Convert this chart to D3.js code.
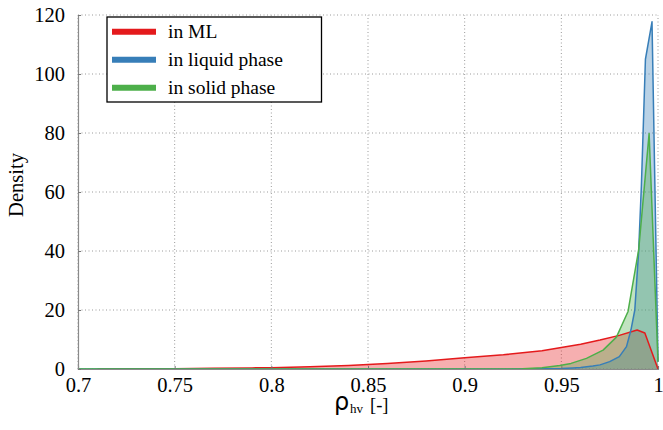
<!DOCTYPE html>
<html><head><meta charset="utf-8">
<script src="https://cdn.jsdelivr.net/npm/d3@7"></script>
<style>body{margin:0;background:#fff}svg{display:block}</style>
</head><body>
<svg id="c" width="663" height="430"></svg>
<script>
const seriesNames = ["in ML", "in liquid phase", "in solid phase"];
const seriesColors = ["#e41a1c", "#377eb8", "#4daf4a"];

const mlX = [0.71, 0.73, 0.75, 0.77, 0.79, 0.80, 0.82, 0.84, 0.85, 0.86, 0.88, 0.90, 0.92, 0.94, 0.95, 0.96, 0.97, 0.98, 0.9892, 0.9932, 1.0];
const mlY = [0, 0.05, 0.12, 0.25, 0.38, 0.45, 0.75, 1.2, 1.5, 1.85, 2.7, 3.8, 4.8, 6.2, 7.3, 8.4, 9.8, 11.4, 13.2, 12.2, 0];

const liqX = [0.70, 0.92, 0.94, 0.95, 0.956, 0.96, 0.9663, 0.97, 0.975, 0.98, 0.9837, 0.986, 0.988, 0.990, 0.9914, 0.9935, 0.9969, 1.0];
const liqY = [0, 0, 0.1, 0.2, 0.35, 0.5, 1.0, 1.4, 2.5, 4.2, 7.6, 13.2, 20, 40, 62, 105, 117.7, 2.5];

const solX = [0.70, 0.92, 0.93, 0.94, 0.9492, 0.955, 0.963, 0.9716, 0.9785, 0.9845, 0.990, 0.9954, 1.0];
const solY = [0, 0, 0.1, 0.4, 1.2, 1.9, 3.6, 6.4, 10.8, 19.5, 40.4, 79.8, 2.5];

const xTicks = [0.7, 0.75, 0.8, 0.85, 0.9, 0.95, 1];
const xTickLabels = ["0.7", "0.75", "0.8", "0.85", "0.9", "0.95", "1"];
const yTicks = [0, 20, 40, 60, 80, 100, 120];

const W = 663, H = 430;
const m = {l: 78, r: 5, t: 15, b: 61};
const svg = d3.select("#c");
const x = d3.scaleLinear().domain([0.7, 1]).range([m.l, W - m.r]);
const y = d3.scaleLinear().domain([0, 120]).range([H - m.b, m.t]);
const serif = "'Liberation Serif', 'DejaVu Serif', serif";

// grid
const g = svg.append("g");
g.selectAll(".gx").data(xTicks).join("line")
  .attr("x1", d => x(d)).attr("x2", d => x(d)).attr("y1", y(0)).attr("y2", y(120))
  .attr("stroke", "#9a9a9a").attr("stroke-width", 1).attr("stroke-dasharray", "1,2.5");
g.selectAll(".gy").data(yTicks).join("line")
  .attr("x1", x(0.7)).attr("x2", x(1)).attr("y1", d => y(d)).attr("y2", d => y(d))
  .attr("stroke", "#9a9a9a").attr("stroke-width", 1).attr("stroke-dasharray", "1,2.5");

// series: fills first, then lines
const series = [
  {xs: mlX, ys: mlY},
  {xs: liqX, ys: liqY},
  {xs: solX, ys: solY}
];
const area = d3.area().x(d => x(d[0])).y0(y(0)).y1(d => y(d[1]));
const line = d3.line().x(d => x(d[0])).y(d => y(d[1]));
const ptsAll = series.map(s => s.xs.map((v, k) => [v, s.ys[k]]));
ptsAll.forEach((pts, i) => {
  svg.append("path").attr("d", area(pts)).attr("fill", seriesColors[i]).attr("fill-opacity", 0.35);
});
ptsAll.forEach((pts, i) => {
  svg.append("path").attr("d", line(pts)).attr("fill", "none").attr("stroke", seriesColors[i])
    .attr("stroke-width", 1.5).attr("stroke-linejoin", "round");
});

// axes
const xa = d3.axisBottom(x).tickValues(xTicks).tickFormat((d, i) => xTickLabels[i]).tickSize(-3).tickPadding(9);
const xg = svg.append("g").attr("transform", `translate(0,${y(0)})`).call(xa);
const ya = d3.axisLeft(y).tickValues(yTicks).tickSize(-3).tickPadding(13);
const yg = svg.append("g").attr("transform", `translate(${x(0.7)},0)`).call(ya);
[xg, yg].forEach(a => {
  a.attr("font-family", null).attr("font-size", null);
  a.select(".domain").attr("stroke", "#8a8a8a").attr("stroke-width", 1.2);
  a.selectAll(".tick line").attr("stroke", "#777");
  a.selectAll(".tick text").style("font-family", serif).style("font-size", "20.5px").attr("fill", "#000");
});
xg.selectAll(".tick text").attr("dy", "0.7em");
yg.selectAll(".tick text").attr("dy", "0.34em");

// axis labels
svg.append("text").attr("transform", `translate(23,${(y(0)+y(120))/2 - 7}) rotate(-90)`)
  .attr("text-anchor", "middle").style("font-family", serif).style("font-size", "20.5px").text("Density");
svg.append("text").attr("x", 334).attr("y", 410)
  .style("font-family", "'DejaVu Sans', sans-serif").style("font-size", "24px").text("ρ");
svg.append("text").attr("x", 350).attr("y", 413)
  .style("font-family", serif).style("font-size", "13px").text("hv");
svg.append("text").attr("x", 370).attr("y", 411)
  .style("font-family", serif).style("font-size", "18.5px").text("[-]");

// legend
const lg = svg.append("g");
lg.append("rect").attr("x", 107).attr("y", 17).attr("width", 214.5).attr("height", 85)
  .attr("fill", "#fff").attr("stroke", "#000").attr("stroke-width", 1.3);
seriesNames.forEach((n, i) => {
  const yy = 31.7 + i * 28;
  lg.append("line").attr("x1", 112).attr("x2", 156).attr("y1", yy).attr("y2", yy)
    .attr("stroke", seriesColors[i]).attr("stroke-width", 6);
  lg.append("text").attr("x", 168).attr("y", yy + 6).style("font-family", serif)
    .style("font-size", "19.5px").text(n);
});
</script>
</body></html>
